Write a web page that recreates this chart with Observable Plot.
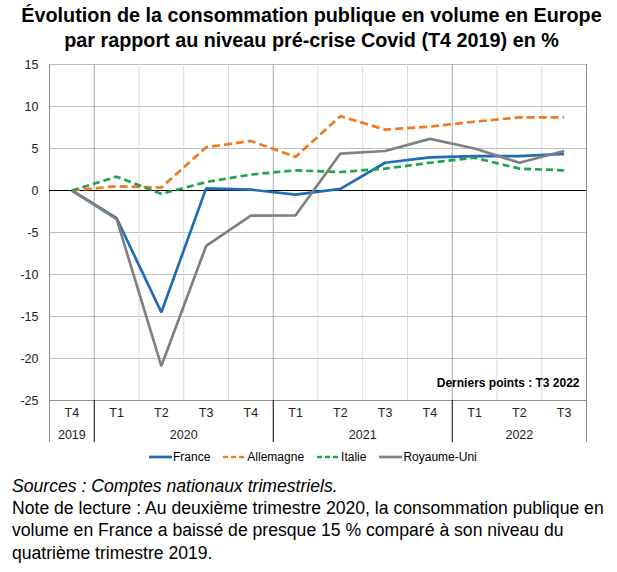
<!DOCTYPE html>
<html><head><meta charset="utf-8">
<script src="https://cdn.jsdelivr.net/npm/d3@7"></script>
<script src="https://cdn.jsdelivr.net/npm/@observablehq/plot@0.6"></script>
<style>
body{margin:0;background:#fff;font-family:"Liberation Sans",Arial,sans-serif;width:617px;height:572px;position:relative;overflow:hidden;color:#000}
#title{position:absolute;left:0;top:3px;width:623px;text-align:center;font-weight:bold;font-size:19.8px;line-height:25px}
#chart{position:absolute;left:0;top:56px}
#legend{position:absolute;left:149px;top:449px;font-size:12px;display:flex;align-items:center;height:16px;white-space:nowrap}
#legend .it{display:flex;align-items:center;margin-right:13px}
#legend svg{margin-right:1px}
#notes{position:absolute;left:12px;top:475px;font-size:17.6px;line-height:22.2px}
</style></head>
<body>
<div id="title">Évolution de la consommation publique en volume en Europe<br>par rapport au niveau pré-crise Covid (T4 2019) en %</div>
<div id="chart"></div>
<div id="legend"></div>
<div id="notes"><i>Sources : Comptes nationaux trimestriels.</i><br>Note de lecture : Au deuxième trimestre 2020, la consommation publique en<br>volume en France a baissé de presque 15 % comparé à son niveau du<br>quatrième trimestre 2019.</div>
<script>
const quarters = ["T4","T1","T2","T3","T4","T1","T2","T3","T4","T1","T2","T3"];
const years = ["2019","2020","2021","2022"];
const yearStart = [0,1,5,9];
const yearEnd = [0,4,8,11];
const yTicks = [-25,-20,-15,-10,-5,0,5,10,15];
const seriesNames = ["France","Allemagne","Italie","Royaume-Uni"];
const france    = [0,-3.3,-14.5,0.25,0.1,-0.5,0.2,3.3,3.95,4.1,4.1,4.35];
const allemagne = [0,0.5,0.35,5.15,5.9,4.0,8.85,7.25,7.6,8.2,8.7,8.7];
const italie    = [0,1.65,-0.4,1.0,1.9,2.4,2.2,2.6,3.3,3.9,2.6,2.4];
const royaumeUni= [0,-3.4,-20.9,-6.6,-3.0,-2.95,4.4,4.7,6.15,5.0,3.3,4.7];
const colors = ["#1f6db4","#f07a22","#20a24f","#808080"];
const dashes = [null,"8,4","7,4",null];
const values = [france, allemagne, italie, royaumeUni];

const boundaries = d3.range(13).map(k => k - 0.5);
const yearBounds = [0.5,4.5,8.5];
const quarterBounds = boundaries.filter(b => !yearBounds.includes(b) && b > -0.5 && b < 11.5);

const marks = [
  Plot.ruleY(yTicks.filter(t => t !== 0 && t !== -25), {x1:-0.5, x2:11.5, stroke:"#c0c0c0", strokeWidth:1}),
  Plot.ruleX(quarterBounds, {y1:-25, y2:15, stroke:"#d9d9d9", strokeWidth:1}),
  Plot.ruleX(yearBounds, {y1:-25, y2:15, stroke:"#a6a6a6", strokeWidth:1}),
  Plot.ruleX([-0.5, 11.5], {y1:-25, y2:15, stroke:"#8c8c8c", strokeWidth:1}),
  Plot.ruleY([-25], {x1:-0.5, x2:11.5, stroke:"#8c8c8c", strokeWidth:1}),
  Plot.ruleY([0], {x1:-0.5, x2:11.5, stroke:"#000", strokeWidth:1.2}),
  Plot.ruleX(yearBounds, {y1:-25, y2:-30, stroke:"#000", strokeWidth:1}),
  Plot.ruleX([-0.5, 11.5], {y1:-25, y2:-30, stroke:"#8c8c8c", strokeWidth:1}),
  Plot.text(quarters, {x:(d,i)=>i, y:()=>-25, dy:12, text:d=>d, fontSize:12.5, fill:"#222"}),
  Plot.text(years, {x:(d,i)=>(yearStart[i]+yearEnd[i])/2, y:()=>-25, dy:34, text:d=>d, fontSize:12.5, fill:"#222"}),
  Plot.text(yTicks, {x:()=>-0.5, y:d=>d, dx:-11, text:d=>String(d), textAnchor:"end", fontSize:12.5, fill:"#222"}),
  Plot.text(["Derniers points : T3 2022"], {x:()=>11.5, y:()=>-25, dx:-7, dy:-17, text:d=>d, textAnchor:"end", fontSize:12, fontWeight:"bold", fill:"#000"})
];

seriesNames.forEach((name, s) => {
  const rows = values[s].map((v, i) => ({i, v, name}));
  const opts = {x:"i", y:"v", stroke:colors[s], strokeWidth:2.7, strokeLinejoin:"miter", strokeLinecap:"butt"};
  if (dashes[s]) opts.strokeDasharray = dashes[s];
  marks.push(Plot.line(rows, opts));
});

const chart = Plot.plot({
  width: 617,
  height: 392,
  marginLeft: 49,
  marginRight: 31,
  marginTop: 8,
  marginBottom: 48,
  x: {type:"linear", domain:[-0.5, 11.5], axis:null},
  y: {type:"linear", domain:[-25, 15], axis:null},
  style: {fontFamily:"'Liberation Sans', Arial, sans-serif", fontSize:"12px", background:"#fff", overflow:"visible"},
  marks
});
document.getElementById("chart").appendChild(chart);

const legend = document.getElementById("legend");
seriesNames.forEach((name, s) => {
  const it = document.createElement("div");
  it.className = "it";
  const dash = dashes[s] ? `stroke-dasharray="5,3"` : "";
  it.innerHTML = `<svg width="23" height="6"><line x1="0" y1="3" x2="23" y2="3" stroke="${colors[s]}" stroke-width="2.7" ${dash}/></svg><span>${name}</span>`;
  legend.appendChild(it);
});
</script>
</body></html>
